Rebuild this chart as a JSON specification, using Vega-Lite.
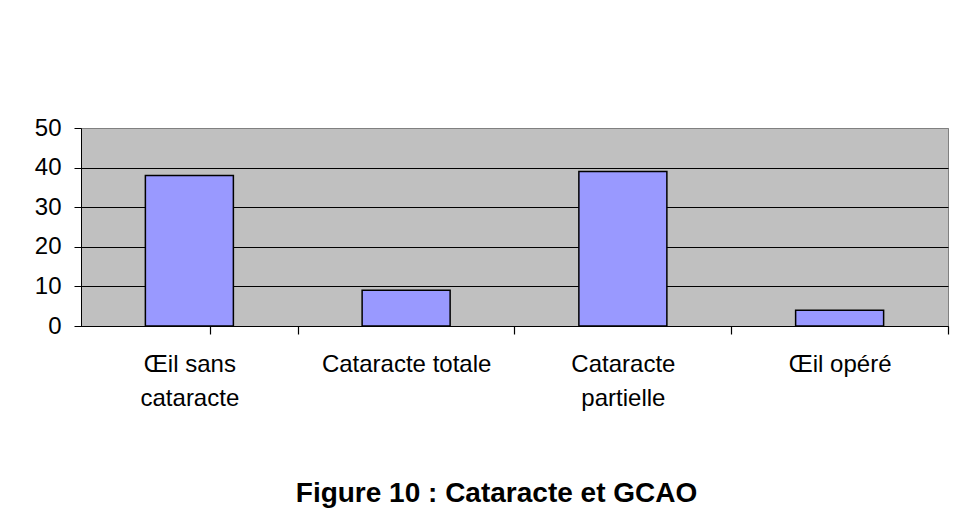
{
  "$schema": "https://vega.github.io/schema/vega-lite/v6.json",
  "autosize": "none",
  "width": 867,
  "height": 198,
  "padding": {"left": 81, "top": 128, "right": 6, "bottom": 190},
  "background": "white",
  "data": {
    "values": [
      {"category": "Œil sans cataracte", "value": 38},
      {"category": "Cataracte totale", "value": 9},
      {"category": "Cataracte partielle", "value": 39},
      {"category": "Œil opéré", "value": 4}
    ]
  },
  "mark": {"type": "bar", "color": "#9999FF", "stroke": "black", "strokeWidth": 1.5},
  "encoding": {
    "x": {
      "field": "category",
      "type": "nominal",
      "sort": null,
      "scale": {"paddingInner": 0.594, "paddingOuter": 0.297},
      "axis": {
        "title": null,
        "labelAngle": 0,
        "labelExpr": "datum.label == 'Œil sans cataracte' ? ['Œil sans', 'cataracte'] : datum.label == 'Cataracte partielle' ? ['Cataracte', 'partielle'] : datum.label",
        "labelFont": "Liberation Sans",
        "labelFontSize": 24,
        "labelColor": "black",
        "labelLineHeight": 34,
        "labelPadding": 18,
        "labelLimit": 400,
        "labelOffset": -64.37,
        "ticks": true,
        "bandPosition": 1,
        "tickExtra": true,
        "tickOffset": 64.37,
        "tickSize": 8,
        "tickWidth": 1.2,
        "tickColor": "black",
        "domainColor": "black",
        "grid": false
      }
    },
    "y": {
      "field": "value",
      "type": "quantitative",
      "scale": {"domain": [0, 50]},
      "axis": {
        "title": null,
        "values": [0, 10, 20, 30, 40, 50],
        "labelFont": "Liberation Sans",
        "labelFontSize": 24,
        "labelColor": "black",
        "labelPadding": 13,
        "tickSize": 7,
        "tickColor": "black",
        "domainColor": "black",
        "grid": true,
        "gridColor": {"condition": {"test": "datum.value == 50", "value": "#808080"}, "value": "black"},
        "gridOpacity": 1
      }
    }
  },
  "title": {
    "text": "Figure 10 : Cataracte et GCAO",
    "orient": "bottom",
    "fontSize": 28,
    "fontWeight": "bold",
    "font": "Liberation Sans",
    "color": "black",
    "offset": 70,
    "dx": -18
  },
  "config": {
    "view": {"fill": "#C0C0C0", "stroke": "#808080", "strokeWidth": 1}
  }
}
